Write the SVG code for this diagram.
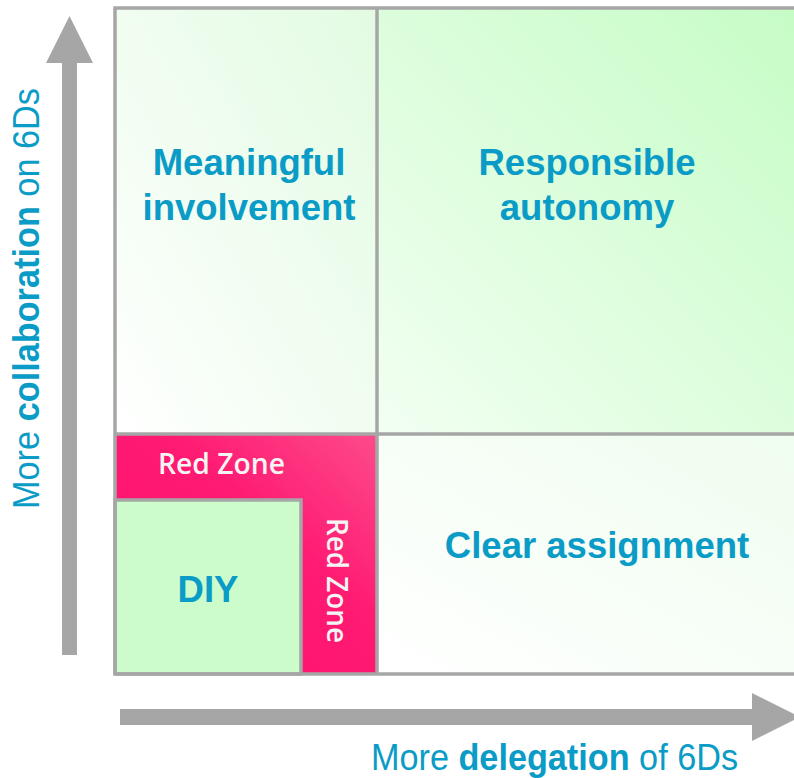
<svg xmlns="http://www.w3.org/2000/svg" width="794" height="778" viewBox="0 0 794 778">
<defs>
<linearGradient id="gTL" x1="0" y1="1" x2="1" y2="0"><stop offset="0" stop-color="#ffffff"/><stop offset="1" stop-color="#e2fbe2"/></linearGradient>
<linearGradient id="gTR" x1="0" y1="1" x2="1" y2="0"><stop offset="0" stop-color="#f2fff2"/><stop offset="1" stop-color="#c6fcc6"/></linearGradient>
<linearGradient id="gBR" x1="0" y1="1" x2="1" y2="0"><stop offset="0" stop-color="#ffffff"/><stop offset="1" stop-color="#effdef"/></linearGradient>
<linearGradient id="gRed" x1="0" y1="1" x2="1" y2="0"><stop offset="0" stop-color="#ff0f6c"/><stop offset="0.6" stop-color="#ff1a72"/><stop offset="1" stop-color="#fd4b8b"/></linearGradient>
<style>
.q{font-family:"Liberation Sans",Arial,sans-serif;font-weight:bold;font-size:36.5px;fill:#0a9cc6;text-anchor:middle}
.ax{font-family:"Liberation Sans",Arial,sans-serif;font-size:36px;fill:#0a9cc6}
.rz{font-family:"Open Sans","DejaVu Sans",sans-serif;font-weight:600;font-size:28px;fill:#f4f4f4}
.br{fill:none;stroke:#a6a6a6;stroke-width:3.5}
.diy{fill:#ccfccc;stroke:#a6a6a6;stroke-width:3.5}
.arr{fill:#a6a6a6}
</style>
</defs>
<rect width="794" height="778" fill="#ffffff"/>
<g id="q-meaningful">
<rect x="115" y="8" width="262" height="426" fill="url(#gTL)"/>
<text class="q" x="249" y="175">Meaningful</text>
<text class="q" x="249" y="220">involvement</text>
</g>
<g id="q-responsible">
<rect x="377" y="8" width="420" height="426" fill="url(#gTR)"/>
<text class="q" x="587" y="175">Responsible</text>
<text class="q" x="587" y="220">autonomy</text>
</g>
<g id="q-clear">
<rect x="377" y="434" width="420" height="240" fill="url(#gBR)"/>
<text class="q" x="597" y="558">Clear assignment</text>
</g>
<g id="red-zone">
<polygon points="115,434 377,434 377,674 301,674 301,500 115,500" fill="url(#gRed)"/>
<text class="rz" x="158" y="474" textLength="127" lengthAdjust="spacingAndGlyphs">Red Zone</text>
<text class="rz" transform="translate(327,518) rotate(90)" x="0" y="0" textLength="125" lengthAdjust="spacingAndGlyphs">Red Zone</text>
</g>
<g id="diy">
<rect x="115" y="500" width="186" height="174" class="diy"/>
<text class="q" x="208" y="602">DIY</text>
</g>
<g id="grid">
<path class="br" d="M115,674 V8 H800 M377,8 V674 M115,434 H800 M115,674 H800"/>
</g>
<g id="connectors">
<polygon class="arr" points="62,655 62,63 46,63 69.5,16 93,63 77,63 77,655"/>
<polygon class="arr" points="120,709 752,709 752,693 800,717 752,741 752,725 120,725"/>
</g>
<g id="axis-labels">
<text class="ax" x="371" y="770" textLength="367" lengthAdjust="spacingAndGlyphs">More <tspan font-weight="bold">delegation</tspan> of 6Ds</text>
<text class="ax" transform="translate(39,509) rotate(-90)" x="0" y="0" textLength="421" lengthAdjust="spacingAndGlyphs">More <tspan font-weight="bold">collaboration</tspan> on 6Ds</text>
</g>
</svg>
